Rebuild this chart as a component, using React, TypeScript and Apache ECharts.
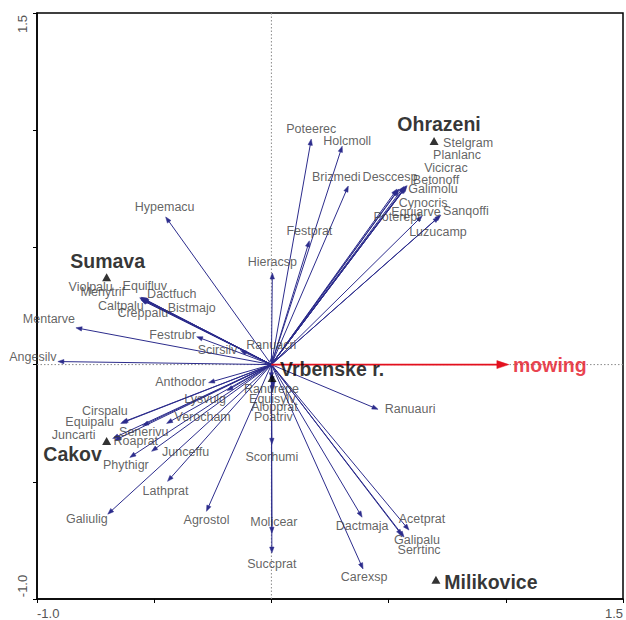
import React, { useEffect, useRef } from "react";
import * as echarts from "echarts";

// ---- data (CCA biplot scores) ----
const speciesNames = [
  "Poteerec", "Holcmoll", "Brizmedi", "Desccesp", "Galimolu", "Betonoff", "Vicicrac", "Planlanc",
  "Stelgram", "Cynocris", "Equiarve", "Poterept", "Sanqoffi", "Luzucamp", "Festprat", "Hieracsp",
  "Ranuacri", "Hypemacu", "Dactfuch", "Equifluv", "Violpalu", "Menytrif", "Caltpalu", "Creppalu",
  "Bistmajo", "Mentarve", "Festrubr", "Scirsilv", "Angesilv", "Anthodor", "Lysvulg", "Cirspalu",
  "Equipalu", "Senerivu", "Verocham", "Juncarti", "Roaprat", "Junceffu", "Phythigr", "Lathprat",
  "Galiulig", "Agrostol", "Ranurepe", "Equisylv", "Alopprat", "Poatriv", "Scorhumi", "Molicear",
  "Succprat", "Ranuauri", "Dactmaja", "Acetprat", "Galipalu", "Serrtinc", "Carexsp",
];
const speciesX = [
  0.170, 0.302, 0.328, 0.536, 0.574, 0.570, 0.574, 0.566,
  0.579, 0.545, 0.540, 0.643, 0.723, 0.715, 0.162, 0.004,
  0.004, -0.451, -0.553, -0.557, -0.562, -0.557, -0.557, -0.553,
  -0.549, -0.834, -0.319, -0.132, -0.911, -0.268, -0.189, -0.638,
  -0.643, -0.549, -0.447, -0.677, -0.668, -0.511, -0.604, -0.443,
  -0.698, -0.277, 0.000, 0.004, 0.009, 0.004, 0.002, 0.002,
  0.002, 0.455, 0.387, 0.587, 0.557, 0.566, 0.391,
];
const speciesY = [
  0.962, 0.932, 0.762, 0.749, 0.757, 0.755, 0.762, 0.760,
  0.764, 0.749, 0.745, 0.634, 0.638, 0.630, 0.528, 0.391,
  0.038, 0.630, 0.285, 0.287, 0.285, 0.281, 0.277, 0.279,
  0.281, 0.157, 0.119, 0.060, 0.013, -0.077, -0.111, -0.247,
  -0.251, -0.260, -0.251, -0.315, -0.323, -0.370, -0.396, -0.498,
  -0.638, -0.626, -0.060, -0.077, -0.098, -0.115, -0.340, -0.719,
  -0.804, -0.191, -0.651, -0.706, -0.728, -0.736, -0.872,
];
const sampleNames = ["Sumava", "Ohrazeni", "Cakov", "Vrbenske r.", "Milikovice"];
const sampleX = [-0.703, 0.694, -0.703, 0.003, 0.702];
const sampleY = [0.373, 0.954, -0.326, -0.057, -0.918];
const envNames = ["mowing"];
const envX = [1.013];
const envY = [0.0];
const axisMin = -1;
const axisMax = 1.5;
const xTickLabels = ["-1.0", "1.5"];
const yTickLabels = ["-1.0", "1.5"];

// ---- layout / style (label offsets in pixels, not data) ----
const labelOffset: Record<string, [number, number]> = {
  Poteerec: [0, -10], Holcmoll: [5, -5], Brizmedi: [-12, -9], Desccesp: [-7, -12], Galimolu: [27, 2],
  Betonoff: [31, -8], Vicicrac: [40, -18], Planlanc: [53, -31], Stelgram: [61, -43], Cynocris: [24, 14],
  Equiarve: [18, 22], Poterept: [-25, 1], Sanqoffi: [25, -4], Luzucamp: [-1, 15], Festprat: [0, -10],
  Hieracsp: [0, -11], Ranuacri: [-1, -11], Hypemacu: [-1, -10], Dactfuch: [30, -4], Equifluv: [4, -11],
  Violpalu: [-49, -11], Menytrif: [-38, -7], Caltpalu: [-20, 6], Creppalu: [1, 14], Bistmajo: [49, 9],
  Mentarve: [-27, -9], Festrubr: [-24, -2], Scirsilv: [-23, -1], Angesilv: [-25, -5], Anthodor: [-28, -1],
  Lysvulg: [-22, 8], Cirspalu: [-17, -11], Equipalu: [-31, -1], Senerivu: [1, 6], Verocham: [36, -6],
  Juncarti: [-39, -3], Roaprat: [21, 1], Junceffu: [34, 1], Phythigr: [-4, 8], Lathprat: [-2, 10],
  Galiulig: [-21, 5], Agrostol: [0, 9], Ranurepe: [0, 10], Equisylv: [0, 16], Alopprat: [1, 19],
  Poatriv: [1, 25], Scorhumi: [0, 13], Molicear: [2, -11], Succprat: [0, 11], Ranuauri: [32, 0],
  Dactmaja: [0, 9], Acetprat: [13, -11], Galipalu: [15, 5], Serrtinc: [15, 13], Carexsp: [1, 8],
  Sumava: [1, -16], Ohrazeni: [5, -17], Cakov: [-34, 13], "Vrbenske r.": [60, -9], Milikovice: [55, 2],
  mowing: [41, 0],
};

const FONT = 'Arial, "Liberation Sans", Helvetica, sans-serif';
const ARROW = "#2c2c8c";
const RED = "#e3101e";

function arrowRenderer(color: string, lw: number, hl: number, hw: number) {
  return (params: any, api: any) => {
    const x = api.value(0);
    const y = api.value(1);
    const p0 = api.coord([0, 0]);
    const p1 = api.coord([x, y]);
    const dx = p1[0] - p0[0];
    const dy = p1[1] - p0[1];
    const len = Math.hypot(dx, dy) || 1;
    const ux = dx / len;
    const uy = dy / len;
    const h = Math.min(hl, len);
    const bx = p1[0] - ux * h;
    const by = p1[1] - uy * h;
    return {
      type: "group",
      children: [
        {
          type: "line",
          shape: { x1: p0[0], y1: p0[1], x2: bx + ux * 1, y2: by + uy * 1 },
          style: { stroke: color, lineWidth: lw },
        },
        {
          type: "polygon",
          shape: {
            points: [
              [p1[0], p1[1]],
              [bx - uy * hw, by + ux * hw],
              [bx + uy * hw, by - ux * hw],
            ],
          },
          style: { fill: color, stroke: color, lineWidth: 0.5 },
        },
      ],
    };
  };
}

function zeroLines(params: any, api: any) {
  const h0 = api.coord([axisMin, 0]);
  const h1 = api.coord([axisMax, 0]);
  const v0 = api.coord([0, axisMin]);
  const v1 = api.coord([0, axisMax]);
  const style = { stroke: "#8a8a8a", lineWidth: 1, lineDash: [1.5, 2] };
  return {
    type: "group",
    children: [
      { type: "line", shape: { x1: h0[0], y1: h0[1], x2: h1[0], y2: h1[1] }, style },
      { type: "line", shape: { x1: v0[0], y1: v0[1], x2: v1[0], y2: v1[1] }, style },
    ],
  };
}

function labelData(names: string[], xs: number[], ys: number[]) {
  return names.map((n, i) => ({
    name: n,
    value: [xs[i], ys[i]],
    label: { offset: labelOffset[n] || [0, 0] },
  }));
}

export default function App() {
  const ref = useRef<HTMLDivElement>(null);
  useEffect(() => {
    document.body.style.margin = "0";
    if (!ref.current) return;
    const chart = echarts.init(ref.current, undefined, { renderer: "svg" });
    const speciesPts = speciesNames.map((n, i) => [speciesX[i], speciesY[i]]);
    const envPts = envNames.map((n, i) => [envX[i], envY[i]]);
    chart.setOption({
      animation: false,
      backgroundColor: "#ffffff",
      grid: {
        left: 37, top: 13, width: 587, height: 588,
        show: true, borderColor: "#000", borderWidth: 1.5, containLabel: false,
      },
      xAxis: {
        type: "value", min: axisMin, max: axisMax, interval: 0.5,
        axisLine: { show: true, onZero: false, lineStyle: { color: "#000", width: 1.5 } },
        axisTick: { show: true, length: 4, lineStyle: { color: "#000", width: 1 } },
        splitLine: { show: false },
        axisLabel: {
          color: "#555", fontSize: 13, fontFamily: FONT, margin: 8,
          alignMinLabel: "left", alignMaxLabel: "right",
          formatter: (v: number) => (v === axisMin ? xTickLabels[0] : v === axisMax ? xTickLabels[1] : ""),
        },
      },
      yAxis: {
        type: "value", min: axisMin, max: axisMax, interval: 0.5,
        axisLine: { show: true, onZero: false, lineStyle: { color: "#000", width: 1.5 } },
        axisTick: { show: true, length: 4, lineStyle: { color: "#000", width: 1 } },
        splitLine: { show: false },
        axisLabel: { show: false },
      },
      graphic: [
        {
          type: "text", x: 22, y: 24, rotation: Math.PI / 2,
          style: { text: yTickLabels[1], fill: "#555", font: `13px ${FONT}`, align: "center", verticalAlign: "middle" },
        },
        {
          type: "text", x: 22, y: 586, rotation: Math.PI / 2,
          style: { text: yTickLabels[0], fill: "#555", font: `13px ${FONT}`, align: "center", verticalAlign: "middle" },
        },
      ],
      series: [
        {
          type: "custom",
          renderItem: zeroLines,
          data: [[0, 0]],
          silent: true,
          z: 1,
        },
        {
          type: "custom",
          renderItem: arrowRenderer(ARROW, 1, 6, 2.2),
          data: speciesPts,
          silent: true,
          z: 3,
        },
        {
          type: "custom",
          renderItem: arrowRenderer(RED, 1.8, 12, 4),
          data: envPts,
          silent: true,
          z: 4,
        },
        {
          type: "scatter",
          data: labelData(speciesNames, speciesX, speciesY),
          symbolSize: 1,
          itemStyle: { color: "rgba(0,0,0,0)" },
          silent: true,
          z: 5,
          label: {
            show: true, position: "inside", formatter: "{b}",
            color: "#3a3a3a", fontSize: 12.5, fontFamily: FONT,
          },
        },
        {
          type: "scatter",
          data: labelData(sampleNames, sampleX, sampleY),
          symbol: "triangle",
          symbolSize: [9, 8],
          itemStyle: { color: "#000" },
          silent: true,
          z: 6,
          label: {
            show: true, position: "inside", formatter: "{b}",
            color: "#000", fontSize: 19.5, fontWeight: "bold", fontFamily: FONT,
          },
        },
        {
          type: "scatter",
          data: labelData(envNames, envX, envY),
          symbolSize: 1,
          itemStyle: { color: "rgba(0,0,0,0)" },
          silent: true,
          z: 6,
          label: {
            show: true, position: "inside", formatter: "{b}",
            color: RED, fontSize: 19.5, fontWeight: "bold", fontFamily: FONT,
          },
        },
      ],
    });
    return () => chart.dispose();
  }, []);
  return <div ref={ref} style={{ width: 626, height: 620 }} />;
}
